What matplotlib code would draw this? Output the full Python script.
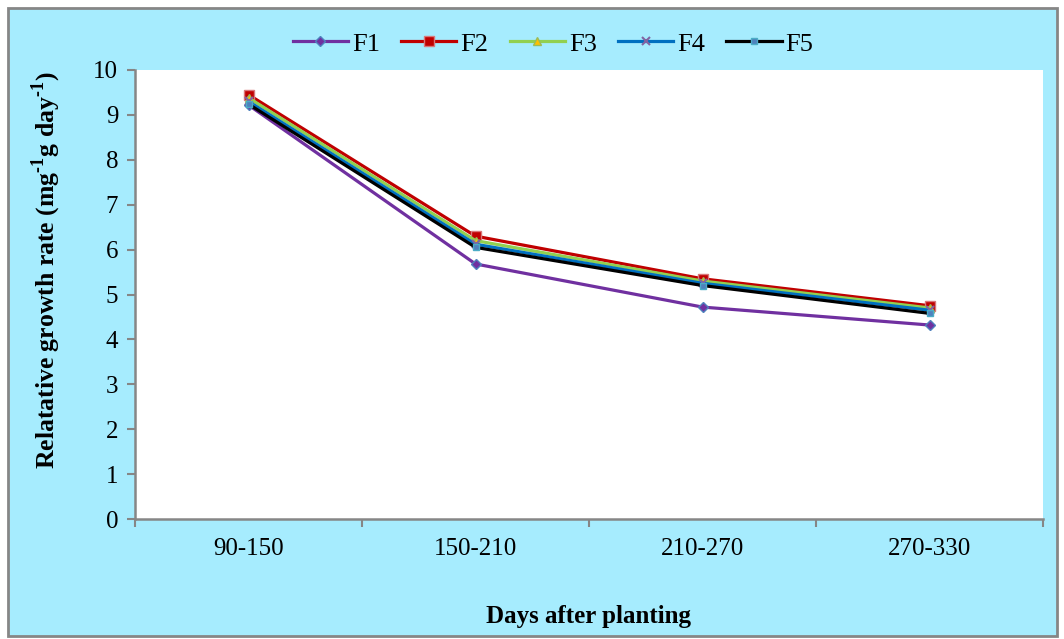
"""
Relative growth rate of five treatments over days after planting, redrawn with matplotlib.
"""
import matplotlib
matplotlib.use('Agg')
import matplotlib.pyplot as plt
from matplotlib.patches import Rectangle

# Data
periods = ['90-150', '150-210', '210-270', '270-330']
f1 = [9.22, 5.68, 4.72, 4.32]
f2 = [9.45, 6.30, 5.35, 4.75]
f3 = [9.38, 6.20, 5.30, 4.70]
f4 = [9.30, 6.12, 5.25, 4.65]
f5 = [9.24, 6.05, 5.20, 4.58]
series_names = ['F1', 'F2', 'F3', 'F4', 'F5']
y_ticks = list(range(0, 11))

plt.rcParams['font.family'] = ['Liberation Serif']
plt.rcParams['mathtext.fontset'] = 'custom'
plt.rcParams['mathtext.rm'] = 'Liberation Serif:bold'
plt.rcParams['mathtext.bf'] = 'Liberation Serif:bold'

fig = plt.figure(figsize=(10.64, 6.39), dpi=100)
fig.patch.set_facecolor('white')
# chart-area box
fig.patches.append(Rectangle((8 / 1064, 3 / 639), 1049 / 1064, 628 / 639,
                             transform=fig.transFigure, facecolor='#A6ECFE',
                             edgecolor='#868686', linewidth=2, zorder=-5))

ax = fig.add_axes([135 / 1064, 1 - 519 / 639, 908 / 1064, 449 / 639])
ax.set_zorder(2)
ax.set_facecolor('white')

x = list(range(len(periods)))
styles = [
    dict(color='#7030A0', marker='D', markersize=5, markerfacecolor='#7030A0', markeredgecolor='#4F81BD'),
    dict(color='#C00000', marker='s', markersize=7, markerfacecolor='#C00000', markeredgecolor='#D9777A'),
    dict(color='#92D050', marker='^', markersize=6, markerfacecolor='#FFC000', markeredgecolor='#9BBB59'),
    dict(color='#0070C0', marker='x', markersize=6, markeredgecolor='#8064A2', markeredgewidth=1.5),
    dict(color='black', marker='s', markersize=4, markerfacecolor='#4F81BD', markeredgecolor='#4BACC6'),
]
for name, vals, st in zip(series_names, [f1, f2, f3, f4, f5], styles):
    ax.plot(x, vals, linewidth=2.3, label=name, **st)

ax.set_xlim(-0.5, len(periods) - 0.5)
ax.set_ylim(0, 10)
ax.set_yticks(y_ticks)
ax.set_xticks(x)
ax.set_xticklabels(periods)
ax.set_xticks([i - 0.5 for i in range(len(periods) + 1)], minor=True)
ax.tick_params(axis='x', which='major', length=0, pad=14, labelsize=18)
ax.tick_params(axis='x', which='minor', length=6, width=1.5, color='#868686', direction='out')
ax.tick_params(axis='y', length=6, width=1.5, color='#868686', labelsize=18, pad=6)

for side in ['top', 'right']:
    ax.spines[side].set_visible(False)
for side in ['left', 'bottom']:
    ax.spines[side].set_color('#868686')
    ax.spines[side].set_linewidth(1.8)

ax.set_xlabel('Days after planting', fontsize=18, fontweight='bold', labelpad=32)
ax.set_ylabel(r'Relatative growth rate (mg$^{\text{-1}}$g day$^{\text{-1}}$)',
              fontsize=18.5, fontweight='bold')
ax.yaxis.set_label_coords(-0.079, 0.555)

fig.legend(loc='center', bbox_to_anchor=(553 / 1064, 1 - 44 / 639), ncol=5, frameon=False,
           fontsize=19, handlelength=2.1, columnspacing=0.8, handletextpad=0.15)

fig.savefig('out.png', dpi=100)
